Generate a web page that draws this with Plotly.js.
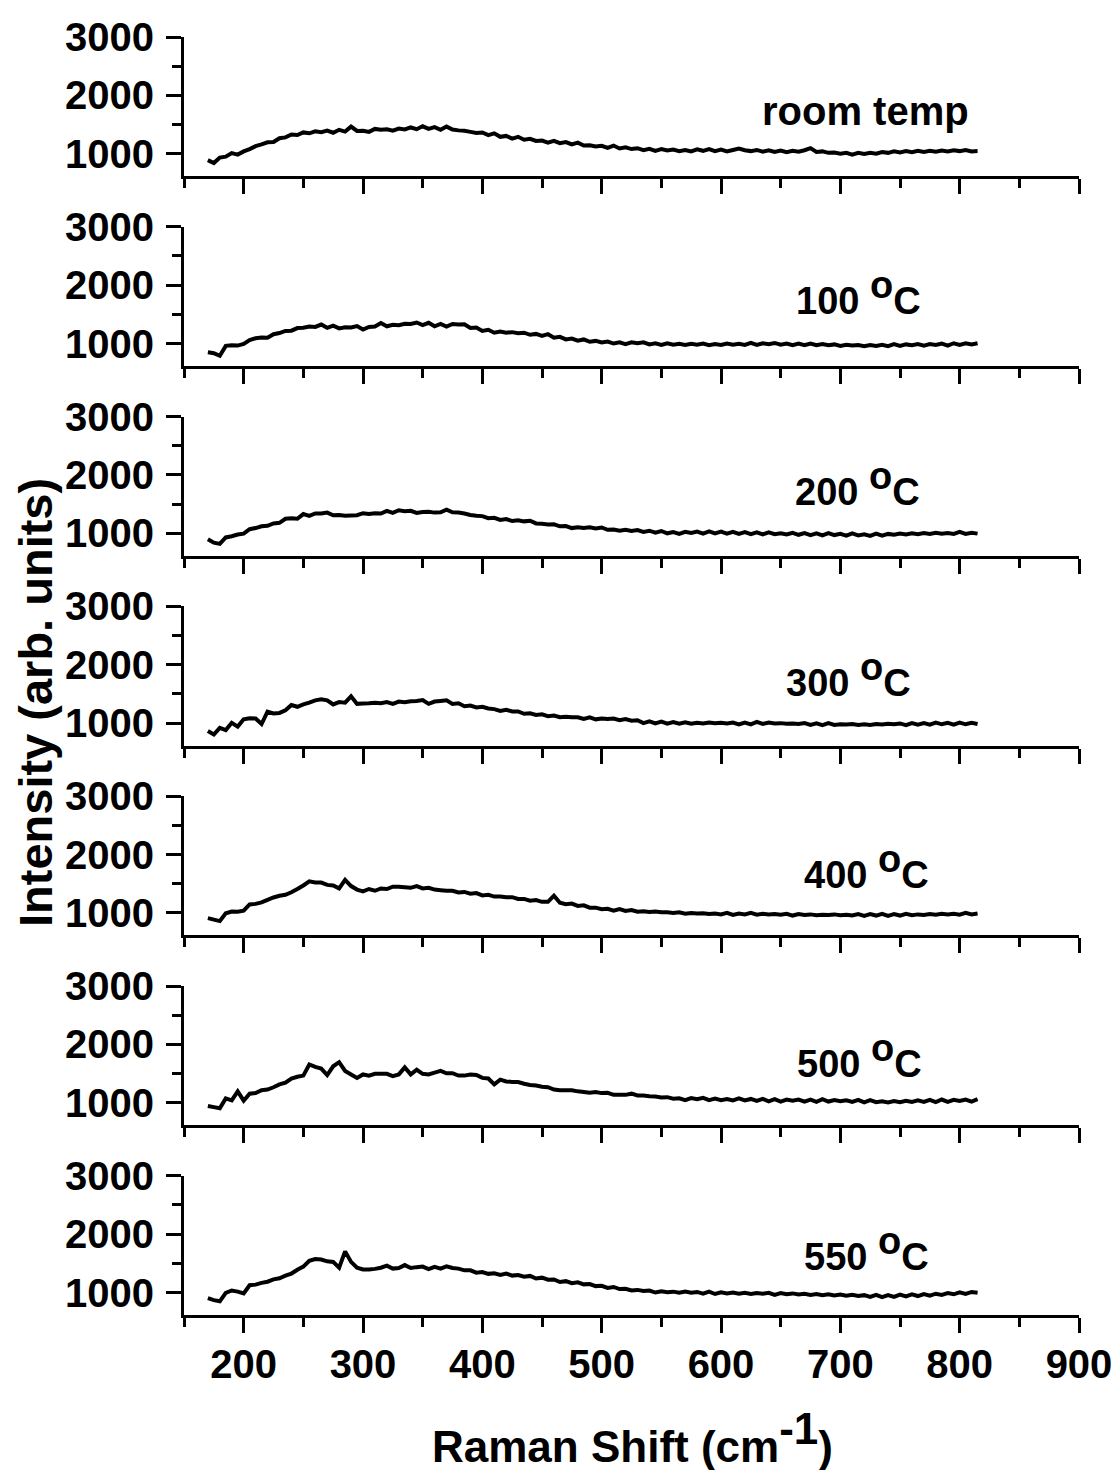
<!DOCTYPE html>
<html><head><meta charset="utf-8">
<script src="https://cdn.plot.ly/plotly-3.0.1.min.js"></script>
<style>html,body{margin:0;padding:0;background:#fff;}#chart{width:1117px;height:1470px;}</style>
</head><body><div id="chart"></div>
<script>
// Raman shift (cm^-1)
const ramanShift = [
170,175,180,185,190,195,200,205,210,215,
220,225,230,235,240,245,250,255,260,265,
270,275,280,285,290,295,300,305,310,315,
320,325,330,335,340,345,350,355,360,365,
370,375,380,385,390,395,400,405,410,415,
420,425,430,435,440,445,450,455,460,465,
470,475,480,485,490,495,500,505,510,515,
520,525,530,535,540,545,550,555,560,565,
570,575,580,585,590,595,600,605,610,615,
620,625,630,635,640,645,650,655,660,665,
670,675,680,685,690,695,700,705,710,715,
720,725,730,735,740,745,750,755,760,765,
770,775,780,785,790,795,800,805,810,815];

const roomTemp = [
890,840,935,950,1010,985,1040,1080,1130,1160,
1195,1200,1265,1280,1330,1320,1365,1350,1385,1370,
1395,1360,1410,1380,1465,1390,1395,1375,1425,1410,
1420,1395,1430,1415,1450,1420,1470,1425,1455,1410,
1465,1415,1400,1395,1375,1355,1365,1320,1350,1290,
1305,1260,1290,1240,1255,1220,1225,1190,1220,1180,
1200,1160,1190,1140,1145,1125,1135,1100,1140,1090,
1110,1080,1095,1060,1085,1050,1080,1055,1070,1045,
1065,1040,1075,1050,1080,1045,1070,1040,1065,1090,
1060,1045,1065,1035,1060,1030,1055,1025,1050,1035,
1060,1095,1030,1040,1015,1020,1000,1015,985,1015,
995,1015,1000,1030,1015,1040,1020,1045,1025,1050,
1030,1050,1035,1055,1040,1060,1045,1065,1040,1045];

const t100 = [
850,835,790,960,970,965,995,1060,1090,1105,
1100,1160,1180,1215,1220,1265,1270,1290,1285,1325,
1270,1305,1260,1280,1275,1300,1240,1285,1290,1350,
1295,1320,1315,1340,1335,1360,1315,1355,1295,1335,
1290,1335,1325,1330,1265,1275,1215,1235,1185,1205,
1185,1195,1175,1185,1150,1165,1130,1160,1100,1115,
1070,1085,1050,1070,1030,1045,1020,1035,1000,1020,
990,1020,1005,1020,985,1005,975,1005,980,995,
975,995,980,1000,970,990,975,1000,980,995,
975,1010,975,1005,990,1010,980,1000,970,1000,
970,1000,970,990,970,985,960,980,965,975,
955,975,960,980,955,990,960,985,970,990,
965,990,975,1000,965,1005,975,1005,985,1005];

const t200 = [
900,840,820,930,950,980,995,1070,1090,1120,
1130,1170,1180,1250,1260,1250,1330,1300,1340,1340,
1355,1310,1315,1300,1305,1310,1345,1330,1345,1340,
1385,1350,1395,1380,1385,1350,1365,1370,1355,1360,
1405,1360,1355,1340,1315,1300,1295,1260,1265,1230,
1245,1210,1225,1205,1215,1170,1165,1150,1155,1120,
1125,1090,1105,1090,1105,1085,1100,1060,1065,1045,
1060,1040,1055,1025,1045,1010,1040,1000,1020,990,
1025,1005,1030,995,1035,1000,1030,995,1025,990,
1020,985,1015,980,1015,985,1000,980,1010,975,
1005,970,1000,965,1005,970,990,960,1000,965,
985,955,995,960,990,975,995,980,1000,985,
1005,990,1010,995,1005,990,1025,990,1010,995];

const t300 = [
865,805,920,880,1005,940,1065,1085,1080,985,
1195,1165,1175,1220,1310,1280,1320,1350,1390,1410,
1390,1320,1360,1350,1460,1330,1335,1340,1350,1340,
1360,1330,1370,1360,1375,1380,1395,1330,1370,1380,
1390,1330,1340,1290,1300,1270,1280,1250,1240,1210,
1230,1200,1200,1160,1170,1140,1150,1120,1130,1100,
1110,1100,1100,1070,1100,1065,1080,1070,1080,1050,
1070,1040,1050,1000,1030,995,1025,990,1020,990,
1015,990,1005,995,1010,1000,1005,995,1010,980,
1010,980,1020,985,1010,995,1000,990,995,985,
1000,970,995,965,1000,970,980,975,985,970,
980,970,985,975,990,980,995,965,1000,975,
1000,975,1010,980,1005,975,1010,980,1005,985];

const t400 = [
910,885,860,995,1025,1020,1040,1145,1155,1180,
1225,1265,1295,1310,1355,1410,1470,1540,1520,1520,
1480,1470,1420,1565,1460,1400,1370,1410,1380,1420,
1410,1450,1450,1440,1430,1460,1420,1430,1400,1390,
1380,1380,1350,1360,1330,1340,1300,1310,1280,1280,
1270,1270,1240,1240,1210,1220,1190,1190,1295,1175,
1150,1160,1120,1130,1090,1090,1065,1070,1040,1065,
1035,1050,1020,1030,1015,1025,1010,1010,1000,1010,
985,1000,990,995,980,990,975,1000,965,990,
975,1000,970,985,975,980,970,985,955,980,
965,975,960,970,965,975,960,970,955,980,
950,980,955,985,950,980,955,985,960,975,
965,980,970,985,975,985,970,1000,975,990];

const t500 = [
945,925,905,1075,1040,1195,1035,1155,1165,1215,
1225,1265,1315,1345,1415,1445,1465,1655,1615,1585,
1475,1625,1695,1545,1485,1425,1485,1465,1495,1495,
1495,1455,1485,1605,1485,1565,1495,1485,1515,1545,
1505,1505,1465,1465,1485,1475,1425,1415,1315,1395,
1365,1355,1355,1325,1305,1295,1275,1265,1225,1215,
1215,1215,1195,1185,1170,1185,1165,1170,1135,1135,
1135,1155,1125,1125,1110,1105,1090,1095,1070,1075,
1045,1080,1060,1085,1045,1070,1045,1065,1040,1075,
1040,1065,1030,1065,1025,1060,1020,1055,1035,1055,
1020,1055,1015,1060,1020,1045,1025,1040,1015,1050,
1005,1045,1010,1025,1005,1030,1010,1035,1015,1040,
1015,1050,1010,1055,1015,1050,1030,1055,1020,1060];

const t550 = [
905,870,850,995,1035,1015,985,1125,1135,1165,
1185,1225,1245,1290,1325,1390,1445,1545,1575,1565,
1535,1525,1425,1705,1525,1425,1395,1395,1405,1425,
1460,1410,1420,1470,1420,1435,1445,1400,1440,1410,
1450,1420,1410,1380,1380,1340,1350,1320,1330,1300,
1325,1290,1300,1270,1285,1240,1255,1220,1225,1180,
1195,1160,1175,1140,1145,1110,1115,1080,1095,1060,
1065,1035,1045,1025,1035,1000,1020,1005,1015,995,
1015,995,1010,980,1015,975,1005,985,1000,980,
995,975,990,980,995,960,990,970,985,965,
980,960,975,955,970,950,965,945,960,940,
955,925,960,920,955,925,965,935,970,940,
975,945,980,960,990,970,1005,975,1010,995];

const seriesLabels = ['room temp','100 o C','200 o C','300 o C','400 o C','500 o C','550 o C'];
const xTickVals = [200,300,400,500,600,700,800,900];
const xMinorVals = [150,250,350,450,550,650,750,850];
const yTickVals = [1000,2000,3000];
const yMinorVals = [1500,2500];
const yTitle = 'Intensity (arb. units)';

// ---------- layout ----------
const series = [roomTemp,t100,t200,t300,t400,t500,t550];
const N = series.length;
const W = 1117, H = 1470;
const mL = 184, mR = 38, mT = 37, mB = 155;
const plotH = H - mT - mB, plotW = W - mL - mR;
const pitch = 189.8, panelH = 139.2;
const FAM = '"Liberation Sans", Arial, Helvetica, sans-serif';
const tickFont = {family: FAM, size: 40, color: '#000', weight: 'bold'};
const labelFont = {family: FAM, size: 38, color: '#000', weight: 'bold'};

function fmtLabel(s) {
  if (s.indexOf(' o C') < 0) return s;
  const num = s.split(' ')[0];
  return num + ' <sup><span style="font-size:38px">o</span></sup>C';
}

const labelPos = [
  {x: 721, off: 98, size: 40}, {x: 715, off: 97}, {x: 714, off: 98}, {x: 707, off: 100},
  {x: 722, off: 102}, {x: 716, off: 100.5}, {x: 722, off: 104}
];

const traces = [];
const layout = {
  width: W, height: H,
  margin: {l: mL, r: mR, t: mT, b: mB, pad: 0},
  showlegend: false,
  paper_bgcolor: '#fff', plot_bgcolor: '#fff',
  annotations: []
};
const yMin = 615, yMax = 3000;
for (let i = 0; i < N; i++) {
  const sfx = i === 0 ? '' : String(i + 1);
  const xa = 'x' + sfx, ya = 'y' + sfx;
  traces.push({
    x: ramanShift, y: series[i], xaxis: xa, yaxis: ya,
    type: 'scatter', mode: 'lines',
    line: {color: '#000', width: 4, simplify: false}, hoverinfo: 'skip'
  });
  const topPx = pitch * i, botPx = topPx + panelH;
  layout['xaxis' + sfx] = {
    anchor: ya, domain: [0, 1], range: [150, 900],
    tickmode: 'array', tickvals: xTickVals, ticktext: xTickVals.map(String),
    showticklabels: i === N - 1,
    ticks: 'outside', ticklen: 15, tickwidth: 3, tickcolor: '#000',
    minor: {tickmode: 'array', tickvals: xMinorVals, ticks: 'outside', ticklen: 9, tickwidth: 3, tickcolor: '#000', showgrid: false},
    showline: true, linewidth: 3, linecolor: '#000',
    showgrid: false, zeroline: false, tickfont: tickFont, ticklabelstandoff: -3,
    fixedrange: true
  };
  layout['yaxis' + sfx] = {
    anchor: xa, domain: [1 - botPx / plotH, 1 - topPx / plotH], range: [yMin, yMax],
    tickmode: 'array', tickvals: yTickVals, ticktext: yTickVals.map(String),
    ticks: 'outside', ticklen: 15, tickwidth: 3, tickcolor: '#000',
    minor: {tickmode: 'array', tickvals: yMinorVals, ticks: 'outside', ticklen: 9, tickwidth: 3, tickcolor: '#000', showgrid: false},
    showline: true, linewidth: 3, linecolor: '#000',
    showgrid: false, zeroline: false, tickfont: tickFont, ticklabelstandoff: 4,
    fixedrange: true
  };
  const pxPerUnit = panelH / (yMax - yMin);
  layout.annotations.push({
    xref: xa, yref: ya, x: labelPos[i].x, y: yMax - labelPos[i].off / pxPerUnit,
    xanchor: 'center', yanchor: 'bottom', showarrow: false,
    text: fmtLabel(seriesLabels[i]),
    font: Object.assign({}, labelFont, labelPos[i].size ? {size: labelPos[i].size} : {})
  });
}
// axis titles
layout.annotations.push({
  xref: 'paper', yref: 'paper', x: (35 - mL) / plotW, y: 1 - (703 - mT) / plotH,
  xanchor: 'center', yanchor: 'middle', textangle: -90, showarrow: false,
  text: yTitle, font: {family: FAM, size: 47, color: '#000', weight: 'bold'}
});
layout.annotations.push({
  xref: 'paper', yref: 'paper', x: (632 - mL) / plotW, y: 1 - (1437 - mT) / plotH,
  xanchor: 'center', yanchor: 'middle', showarrow: false,
  text: 'Raman Shift (cm<sup><span style="font-size:44px">-1</span></sup>)',
  font: {family: FAM, size: 44, color: '#000', weight: 'bold'}
});

Plotly.newPlot('chart', traces, layout, {displayModeBar: false, staticPlot: true});
</script>
</body></html>
